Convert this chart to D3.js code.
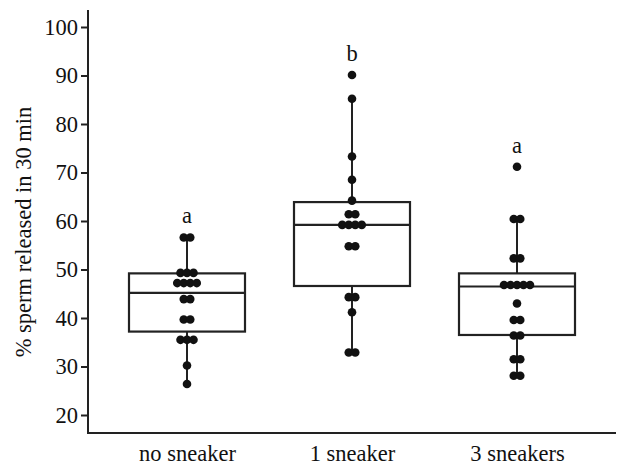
<!DOCTYPE html>
<html>
<head>
<meta charset="utf-8">
<script src="https://cdn.jsdelivr.net/npm/d3@7"></script>
<style>
  body { margin: 0; background: #fff; }
  svg text { font-family: "Liberation Serif", "Times New Roman", serif; fill: #111; }
  .axis path, .axis line { stroke: #222; stroke-width: 2px; }
  .axis text { font-size: 22.5px; }
</style>
</head>
<body>
<svg id="chart"></svg>
<script>
var groups = ["no sneaker", "1 sneaker", "3 sneakers"];

var noSneaker = [56.6, 56.6, 49.3, 49.3, 49.3, 47.2, 47.2, 47.2, 47.2, 43.9, 43.9,
                 39.7, 39.7, 35.5, 35.5, 35.5, 30.2, 26.4];
var oneSneaker = [90.1, 85.2, 73.3, 68.5, 64.2, 61.4, 61.4, 59.2, 59.2, 59.2, 59.2,
                  54.8, 54.8, 44.3, 44.3, 41.2, 32.9, 32.9];
var threeSneakers = [71.2, 60.4, 60.4, 52.3, 52.3, 46.8, 46.8, 46.8, 46.8, 46.8, 43.0,
                     39.6, 39.6, 36.4, 36.4, 31.5, 31.5, 28.1, 28.1];

// box stats per group: lower whisker, q1, median, q3, upper whisker
var whiskerLow = [26.4, 32.9, 28.1];
var q1 = [37.2, 46.6, 36.5];
var median = [45.2, 59.2, 46.5];
var q3 = [49.2, 63.9, 49.2];
var whiskerHigh = [56.6, 85.2, 60.4];

var letters = ["a", "b", "a"];
var yTicks = [20, 30, 40, 50, 60, 70, 80, 90, 100];

var w = 619, h = 466;
var margin = { top: 10, right: 3, bottom: 33, left: 88 };

var svg = d3.select("#chart").attr("width", w).attr("height", h);

var x = d3.scalePoint()
    .domain(groups)
    .range([margin.left, w - margin.right])
    .padding(0.6);

var y = d3.scaleLinear()
    .domain([20, 100])
    .range([415, 27]);

var allData = [noSneaker, oneSneaker, threeSneakers];

// y axis
var yAxis = svg.append("g")
    .attr("class", "axis axis--y")
    .attr("transform", "translate(" + margin.left + ",0)")
    .call(d3.axisLeft(y).tickValues(yTicks).tickSize(7).tickPadding(3).tickSizeOuter(0));
yAxis.select(".domain").attr("d", "M0," + margin.top + "V" + (h - margin.bottom));

// x axis, no tick marks
var xAxis = svg.append("g")
    .attr("class", "axis axis--x")
    .attr("transform", "translate(0," + (h - margin.bottom) + ")")
    .call(d3.axisBottom(x).tickSize(0).tickPadding(12).tickSizeOuter(0));
xAxis.select(".domain").attr("d", "M" + (margin.left - 1) + ",0H" + (w - margin.right));

// y title
svg.append("text")
    .attr("transform", "translate(31,232) rotate(-90)")
    .attr("text-anchor", "middle")
    .style("font-size", "22.5px")
    .text("% sperm released in 30 min");

var halfBox = 58;
var boxes = svg.append("g");

groups.forEach(function(g, i) {
    var cx = x(g);
    var gg = boxes.append("g");

    // whisker line
    gg.append("line")
        .attr("x1", cx).attr("x2", cx)
        .attr("y1", y(whiskerLow[i])).attr("y2", y(whiskerHigh[i]))
        .attr("stroke", "#222").attr("stroke-width", 2);

    // box
    gg.append("rect")
        .attr("x", cx - halfBox)
        .attr("width", halfBox * 2)
        .attr("y", y(q3[i]))
        .attr("height", y(q1[i]) - y(q3[i]))
        .attr("fill", "#fff")
        .attr("stroke", "#222").attr("stroke-width", 2.2);

    gg.append("line")
        .attr("x1", cx - halfBox).attr("x2", cx + halfBox)
        .attr("y1", y(median[i])).attr("y2", y(median[i]))
        .attr("stroke", "#222").attr("stroke-width", 2.2);

    // dots, stacked side by side when values repeat
    var counts = d3.rollup(allData[i], function(v) { return v.length; }, function(d) { return d; });
    var dots = [];
    counts.forEach(function(n, val) {
        for (var k = 0; k < n; k++) {
            dots.push({ v: val, off: (k - (n - 1) / 2) * 6.5 });
        }
    });
    gg.selectAll("circle")
        .data(dots)
        .enter().append("circle")
        .attr("cx", function(d) { return cx + d.off; })
        .attr("cy", function(d) { return y(d.v); })
        .attr("r", 4.3)
        .attr("fill", "#111");

    // significance letter
    gg.append("text")
        .attr("x", cx)
        .attr("y", y(d3.max(allData[i])) - 14)
        .attr("text-anchor", "middle")
        .style("font-size", "22.5px")
        .text(letters[i]);
});
</script>
</body>
</html>
